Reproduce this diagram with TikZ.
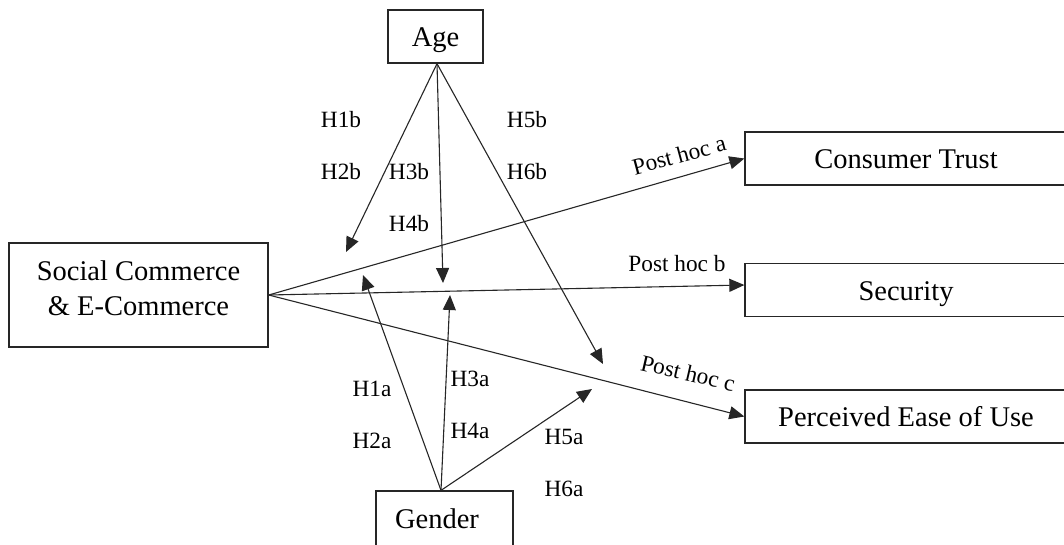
\documentclass[tikz,border=0pt]{standalone}
\usepackage{fontspec}
\setmainfont{Liberation Serif}
\usetikzlibrary{arrows.meta}
\begin{document}
\begin{tikzpicture}[x=1pt,y=-1pt,
  box/.style={draw=black!85, line width=1.3pt, inner sep=0pt},
  boxtxt/.style={font=\fontsize{28.5}{35}\selectfont, text height=20pt, text depth=0pt},
  plaintxt/.style={font=\fontsize{28.5}{35}\selectfont, inner sep=0pt, anchor=base},
  hlab/.style={font=\fontsize{23.3}{28}\selectfont, inner sep=0pt},
  conn/.style={draw=black!85, line width=1.1pt, -{Triangle[length=15pt,width=13pt]}}]
\clip (0,0) rectangle (1064,544);
\fill[white] (0,0) rectangle (1064,544);

% boxes
\node[box, boxtxt, minimum width=95pt, minimum height=53pt] (age) at (435.5,36.5) {Age};
\node[box, boxtxt, minimum width=322pt, minimum height=53pt] (trust) at (906,158.5) {Consumer Trust};
\node[box, boxtxt, minimum width=322pt, minimum height=53pt] (sec) at (906,290) {Security};
\node[box, boxtxt, minimum width=322pt, minimum height=53pt] (peou) at (906,416.5) {Perceived Ease of Use};
\node[box, minimum width=259pt, minimum height=104pt] (scec) at (138.5,295) {};
\node[plaintxt] (scectxta) at (138.5,280) {Social Commerce};
\node[plaintxt] (scectxtb) at (138.5,315) {\& E-Commerce};
\node[box, minimum width=137pt, minimum height=64pt] (gender) at (444.5,523) {};
\node[plaintxt] (gendertxt) at (437,528) {Gender};

% hub points and free arrow ends
\coordinate (ageapex) at ([xshift=1.5pt]age.south);
\coordinate (genapex) at ([xshift=-3.5pt]gender.north);
\coordinate (e1) at (346,252);
\coordinate (e2) at (443,283);
\coordinate (e3) at (603,364);
\coordinate (e4) at (363,275);
\coordinate (e5) at (450,295);
\coordinate (e6) at (592,389);

% moderator arrows
\draw[conn] (ageapex) -- (e1);
\draw[conn] (ageapex) -- (e2);
\draw[conn] (ageapex) -- (e3);
\draw[conn] (genapex) -- (e4);
\draw[conn] (genapex) -- (e5);
\draw[conn] (genapex) -- (e6);

% post hoc arrows
\draw[conn] (scec.east) -- (trust.west);
\draw[conn] (scec.east) -- ([yshift=5pt]sec.west);
\draw[conn] (scec.east) -- (peou.west);

% post hoc labels
\node[hlab, rotate=15] (pha) at (679,155) {Post hoc a};
\node[hlab] (phb) at (677,264) {Post hoc b};
\node[hlab, rotate=-13] (phc) at (688,373) {Post hoc c};

% hypothesis labels
\node[hlab] (h1b) at (341,120) {H1b};
\node[hlab] (h2b) at (341,172) {H2b};
\node[hlab] (h3b) at (409,172) {H3b};
\node[hlab] (h4b) at (409,224) {H4b};
\node[hlab] (h5b) at (527,120) {H5b};
\node[hlab] (h6b) at (527,172) {H6b};
\node[hlab] (h1a) at (372,389) {H1a};
\node[hlab] (h2a) at (372,441) {H2a};
\node[hlab] (h3a) at (470,379) {H3a};
\node[hlab] (h4a) at (470,431) {H4a};
\node[hlab] (h5a) at (564,437) {H5a};
\node[hlab] (h6a) at (564,489) {H6a};
\end{tikzpicture}
\end{document}
